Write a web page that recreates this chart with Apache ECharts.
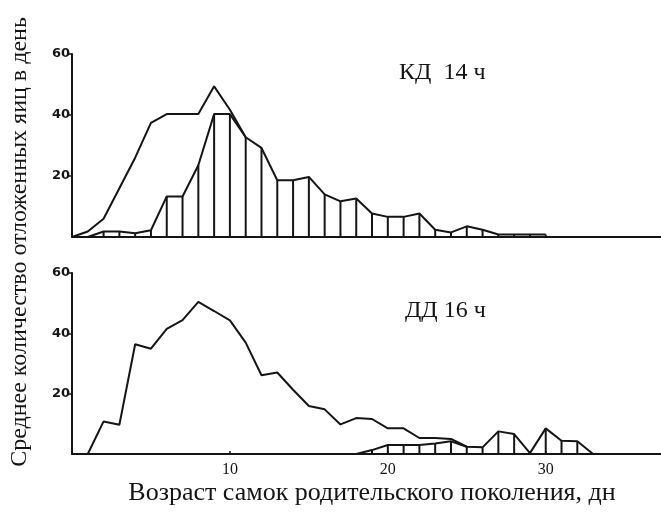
<!DOCTYPE html>
<html>
<head>
<meta charset="utf-8">
<script src="https://cdn.jsdelivr.net/npm/echarts@6/dist/echarts.min.js"></script>
<style>html,body{margin:0;padding:0;background:#fff}#c{width:661px;height:513px}</style>
</head>
<body>
<div id="c"></div>
<script>
// ---- data ----
const topOuterDays = [0,1,2,3,4,5,6,7,8,9,10,11];
const topOuterVals = [0,1.8,6,16,26,37.4,40.3,40.3,40.3,49.4,41.7,32.7];
const topHatchDays = [1,2,3,4,5,6,7,8,9,10,11,12,13,14,15,16,17,18,19,20,21,22,23,24,25,26,27,28,29,30];
const topHatchVals = [0,1.8,1.8,1.2,2.2,13.3,13.3,23.5,40.3,40.3,32.7,29.2,18.6,18.6,19.7,14,11.7,12.6,7.7,6.6,6.6,7.7,2.4,1.5,3.5,2.4,0.8,0.8,0.8,0.8];
const botOuterDays = [1,2,3,4,5,6,7,8,9,10,11,12,13,14,15,16,17,18,19,20,21,22,23,24,25];
const botOuterVals = [0,10.8,9.7,36.4,34.9,41.5,44.4,50.4,47.4,44.3,36.9,26.1,27,21.3,15.9,14.8,9.8,11.9,11.6,8.5,8.5,5.3,5.3,5.0,2.4];
const botHatchDays = [18,19,20,21,22,23,24,25,26,27,28,29,30,31,32,33];
const botHatchVals = [0,1.3,3,3,3,3.5,4.2,2.4,2.2,7.5,6.6,0.3,8.5,4.4,4.2,0];
const xTicks = [10,20,30];
const yTicks = [20,40,60];
const panelLabels = ['КД  14 ч', 'ДД 16 ч'];
const xTitle = 'Возраст самок родительского поколения, дн';
const yTitle = 'Среднее количество отложенных яиц в день';

const zip = (a,b) => a.map((v,i)=>[v,b[i]]);
const INK = '#151515';
const serif = '"Liberation Serif", "DejaVu Serif", serif';

function xAxisCfg(idx, showLabels){
  return {
    type:'value', gridIndex: idx, min:0, max:37.3,
    axisLine:{show:true, onZero:false, lineStyle:{color:INK, width:2}},
    axisTick:{show: showLabels, inside:true, length:3, customValues:xTicks, lineStyle:{color:INK,width:1.5}},
    axisLabel:{show: showLabels, customValues:xTicks, margin:8, color:INK, fontFamily:serif, fontSize:16},
    splitLine:{show:false}
  };
}
function yAxisCfg(idx){
  return {
    type:'value', gridIndex: idx, min:0, max:60,
    axisLine:{show:true, lineStyle:{color:INK, width:2}},
    axisTick:{show:true, inside:false, length:3, customValues:yTicks, lineStyle:{color:INK,width:1.5}},
    axisLabel:{customValues:yTicks, margin:2, color:INK, fontFamily:'"DejaVu Sans", sans-serif', fontWeight:'bold', fontSize:13},
    splitLine:{show:false}
  };
}
const lineS = (xi, d) => ({type:'line', xAxisIndex:xi, yAxisIndex:xi, data:d, symbol:'none', lineStyle:{color:INK,width:2}, z:3});
const barS = (xi, d) => ({type:'bar', xAxisIndex:xi, yAxisIndex:xi, data:d, barWidth:2, itemStyle:{color:INK}, z:2});

const chart = echarts.init(document.getElementById('c'), null, {renderer:'canvas'});
chart.setOption({
  animation:false,
  backgroundColor:'#fff',
  grid:[
    {left:72, right:0, top:54, height:183},
    {left:72, right:0, top:273, height:181}
  ],
  xAxis:[xAxisCfg(0,false), xAxisCfg(1,true)],
  yAxis:[yAxisCfg(0), yAxisCfg(1)],
  title:[
    {text:panelLabels[0], left:394, top:56, textStyle:{fontFamily:serif, fontWeight:'normal', fontSize:24, color:INK}},
    {text:panelLabels[1], left:400, top:294, textStyle:{fontFamily:serif, fontWeight:'normal', fontSize:24, color:INK}}
  ],
  graphic:[
    {type:'text', x:372, y:493, style:{text:xTitle, font:'26px '+serif, fill:INK, align:'center', verticalAlign:'middle'}},
    {type:'text', x:20, y:242, rotation:Math.PI/2, style:{text:yTitle, font:'24px '+serif, fill:INK, align:'center', verticalAlign:'middle'}}
  ],
  series:[
    barS(0, zip(topHatchDays, topHatchVals)),
    lineS(0, zip(topHatchDays, topHatchVals)),
    lineS(0, zip(topOuterDays, topOuterVals)),
    barS(1, zip(botHatchDays, botHatchVals)),
    lineS(1, zip(botHatchDays, botHatchVals)),
    lineS(1, zip(botOuterDays, botOuterVals))
  ]
});
</script>
</body>
</html>
